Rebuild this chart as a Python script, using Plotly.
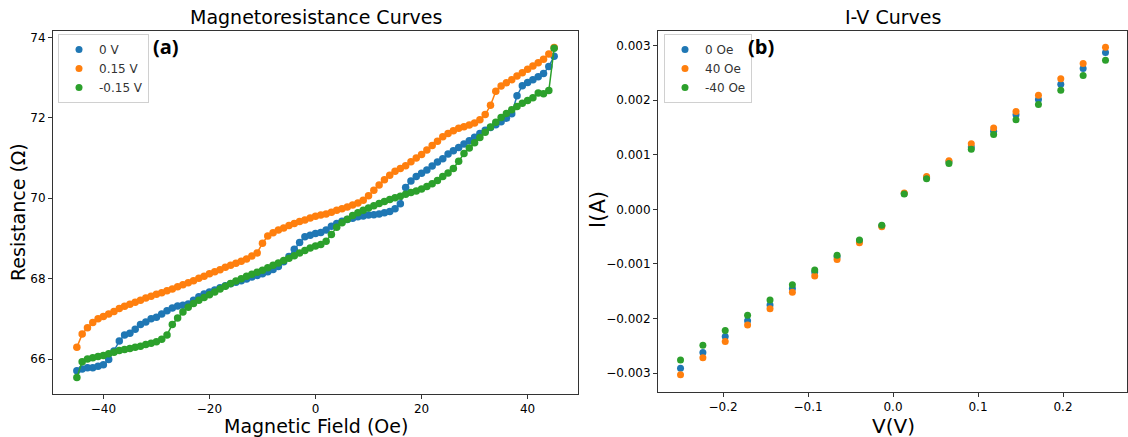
import plotly.graph_objects as go

# ---------------- data: magnetoresistance ----------------
field_oe = list(range(-45, 46))

r_0v = [65.71, 65.75, 65.78, 65.78, 65.82, 65.86, 65.99, 66.20, 66.45, 66.60,
        66.64, 66.74, 66.86, 66.92, 67.00, 67.04, 67.12, 67.20, 67.27, 67.32,
        67.34, 67.37, 67.46, 67.55, 67.62, 67.67, 67.72, 67.77, 67.82, 67.87,
        67.91, 67.95, 67.99, 68.04, 68.08, 68.12, 68.17, 68.23, 68.30, 68.42,
        68.55, 68.73, 68.90, 69.04, 69.08, 69.12, 69.15, 69.21, 69.30, 69.37,
        69.43, 69.47, 69.50, 69.54, 69.56, 69.58, 69.59, 69.61, 69.64, 69.67,
        69.74, 69.86, 70.27, 70.43, 70.54, 70.62, 70.70, 70.80, 70.90, 70.98,
        71.10, 71.18, 71.26, 71.35, 71.43, 71.52, 71.61, 71.69, 71.76, 71.83,
        71.90, 71.99, 72.10, 72.55, 72.80, 72.88, 72.95, 73.02, 73.10, 73.28,
        73.53]

r_p015v = [66.29, 66.62, 66.78, 66.91, 67.00, 67.06, 67.12, 67.18, 67.26, 67.31,
           67.36, 67.41, 67.46, 67.52, 67.56, 67.61, 67.65, 67.70, 67.74, 67.80,
           67.85, 67.90, 67.95, 68.01, 68.06, 68.12, 68.17, 68.22, 68.28, 68.33,
           68.38, 68.43, 68.49, 68.56, 68.64, 68.88, 69.06, 69.14, 69.21, 69.26,
           69.32, 69.37, 69.42, 69.46, 69.51, 69.55, 69.58, 69.61, 69.65, 69.70,
           69.74, 69.78, 69.83, 69.88, 69.95, 70.06, 70.20, 70.33, 70.46, 70.57,
           70.67, 70.74, 70.81, 70.91, 71.00, 71.09, 71.20, 71.31, 71.42, 71.53,
           71.61, 71.68, 71.74, 71.78, 71.82, 71.87, 71.95, 72.08, 72.31, 72.66,
           72.79, 72.87, 72.95, 73.04, 73.12, 73.21, 73.29, 73.37, 73.46, 73.59,
           73.75]

r_m015v = [65.54, 65.93, 66.00, 66.03, 66.06, 66.09, 66.13, 66.17, 66.21, 66.24,
           66.26, 66.29, 66.32, 66.36, 66.39, 66.43, 66.49, 66.60, 66.86, 67.02,
           67.17, 67.29, 67.38, 67.46, 67.53, 67.60, 67.67, 67.74, 67.81, 67.88,
           67.94, 68.00, 68.06, 68.11, 68.16, 68.21, 68.27, 68.33, 68.39, 68.45,
           68.51, 68.57, 68.64, 68.70, 68.76, 68.81, 68.85, 68.93, 69.10, 69.28,
           69.39, 69.48, 69.57, 69.64, 69.70, 69.76, 69.81, 69.87, 69.92, 69.97,
           70.01, 70.05, 70.10, 70.14, 70.18, 70.23, 70.29, 70.36, 70.44, 70.54,
           70.63, 70.74, 70.92, 71.11, 71.25, 71.38, 71.51, 71.64, 71.77, 71.89,
           72.01, 72.11, 72.20, 72.28, 72.36, 72.43, 72.50, 72.62, 72.60, 72.68,
           73.73]

mr_names = ["0 V", "0.15 V", "-0.15 V"]

# ---------------- data: I-V ----------------
voltage = [-0.25, -0.2237, -0.1974, -0.1711, -0.1447, -0.1184, -0.0921, -0.0658,
           -0.0395, -0.0132, 0.0132, 0.0395, 0.0658, 0.0921, 0.1184, 0.1447,
           0.1711, 0.1974, 0.2237, 0.25]

i_0oe = [-0.00291, -0.00262, -0.00233, -0.00204, -0.00175, -0.00145, -0.00115,
         -0.00087, -0.00058, -0.00030, 0.00029, 0.00058, 0.00087, 0.00114,
         0.00143, 0.00173, 0.00201, 0.00229, 0.00258, 0.00287]
i_p40oe = [-0.00303, -0.00272, -0.00242, -0.00212, -0.00182, -0.00152, -0.00122,
           -0.00092, -0.00061, -0.00032, 0.00030, 0.00060, 0.00089, 0.00120,
           0.00149, 0.00179, 0.00209, 0.00239, 0.00267, 0.00297]
i_m40oe = [-0.00276, -0.00249, -0.00222, -0.00194, -0.00166, -0.00138, -0.00111,
           -0.00084, -0.00056, -0.00029, 0.00028, 0.00056, 0.00084, 0.00110,
           0.00137, 0.00164, 0.00192, 0.00218, 0.00245, 0.00273]

iv_names = ["0 Oe", "40 Oe", "-40 Oe"]

colors = ["#1f77b4", "#ff7f0e", "#2ca02c"]

W, H = 1128, 437
FONT = "DejaVu Sans"
MS = 7.5

fig = go.Figure()

# magnetoresistance (lines + markers), legend via marker-only traces
for name, r, c in zip(mr_names, [r_0v, r_p015v, r_m015v], colors):
    fig.add_trace(go.Scatter(x=field_oe, y=r, mode="lines+markers",
                             line=dict(color=c, width=1.5),
                             marker=dict(color=c, size=MS),
                             showlegend=False, xaxis="x", yaxis="y"))
for name, c in zip(mr_names, colors):
    fig.add_trace(go.Scatter(x=[None], y=[None], mode="markers", name=name,
                             marker=dict(color=c, size=7),
                             legend="legend", xaxis="x", yaxis="y"))

for name, cur, c in zip(iv_names, [i_0oe, i_p40oe, i_m40oe], colors):
    fig.add_trace(go.Scatter(x=voltage, y=cur, mode="markers", name=name,
                             marker=dict(color=c, size=7),
                             legend="legend2", xaxis="x2", yaxis="y2"))

axis_common = dict(showline=True, mirror=True, linecolor="#333", linewidth=1,
                   ticks="outside", ticklen=4, tickcolor="#333", showgrid=False,
                   zeroline=False, tickfont=dict(family=FONT, size=12, color="#000"))

px2x = lambda p: p / W
px2y = lambda p: 1 - p / H

fig.update_layout(
    width=W, height=H, margin=dict(l=0, r=0, t=0, b=0),
    paper_bgcolor="white", plot_bgcolor="white",
    xaxis=dict(domain=[px2x(53), px2x(578)], range=[-49.5, 49.5],
               tickvals=[-40, -20, 0, 20, 40], anchor="y", **axis_common),
    yaxis=dict(domain=[px2y(394), px2y(31)], range=[65.13, 74.16],
               tickvals=[66, 68, 70, 72, 74], anchor="x", **axis_common),
    xaxis2=dict(domain=[px2x(658), px2x(1127)], range=[-0.2765, 0.2753],
                tickvals=[-0.2, -0.1, 0.0, 0.1, 0.2], tickformat=".1f",
                anchor="y2", **axis_common),
    yaxis2=dict(domain=[px2y(391.7), px2y(31)], range=[-0.00334, 0.003266],
                tickvals=[-0.003, -0.002, -0.001, 0.0, 0.001, 0.002, 0.003],
                tickformat=".3f", anchor="x2", **axis_common),
    legend=dict(x=px2x(58), y=px2y(34), xanchor="left", yanchor="top",
                bordercolor="#d0d0d0", borderwidth=1, bgcolor="rgba(255,255,255,0.8)",
                font=dict(family=FONT, size=12, color="#333"), tracegroupgap=0,
                itemwidth=30),
    legend2=dict(x=px2x(664), y=px2y(34), xanchor="left", yanchor="top",
                 bordercolor="#d0d0d0", borderwidth=1, bgcolor="rgba(255,255,255,0.8)",
                 font=dict(family=FONT, size=12, color="#333"), tracegroupgap=0,
                 itemwidth=30),
    showlegend=True,
)

ann = [
    dict(text="Magnetoresistance Curves", x=px2x(315.5), y=px2y(17), size=19),
    dict(text="I-V Curves", x=px2x(892.5), y=px2y(17), size=19),
    dict(text="Magnetic Field (Oe)", x=px2x(316), y=px2y(426), size=19),
    dict(text="V(V)", x=px2x(893), y=px2y(426), size=20),
]
annotations = []
for a in ann:
    annotations.append(dict(text=a["text"], x=a["x"], y=a["y"], xref="paper", yref="paper",
                            xanchor="center", yanchor="middle", showarrow=False,
                            font=dict(family=FONT, size=a["size"], color="#000")))
annotations.append(dict(text="Resistance (Ω)", x=px2x(18), y=px2y(212), xref="paper",
                        yref="paper", xanchor="center", yanchor="middle", showarrow=False,
                        textangle=-90, font=dict(family=FONT, size=19, color="#000")))
annotations.append(dict(text="I(A)", x=px2x(598), y=px2y(210), xref="paper",
                        yref="paper", xanchor="center", yanchor="middle", showarrow=False,
                        textangle=-90, font=dict(family=FONT, size=21, color="#000")))
annotations.append(dict(text="<b>(a)</b>", x=px2x(166), y=px2y(47), xref="paper",
                        yref="paper", xanchor="center", yanchor="middle", showarrow=False,
                        font=dict(family="Open Sans", size=20, color="#000")))
annotations.append(dict(text="<b>(b)</b>", x=px2x(761), y=px2y(47), xref="paper",
                        yref="paper", xanchor="center", yanchor="middle", showarrow=False,
                        font=dict(family="Open Sans", size=20, color="#000")))
fig.update_layout(annotations=annotations)

fig.write_html("out.html")
